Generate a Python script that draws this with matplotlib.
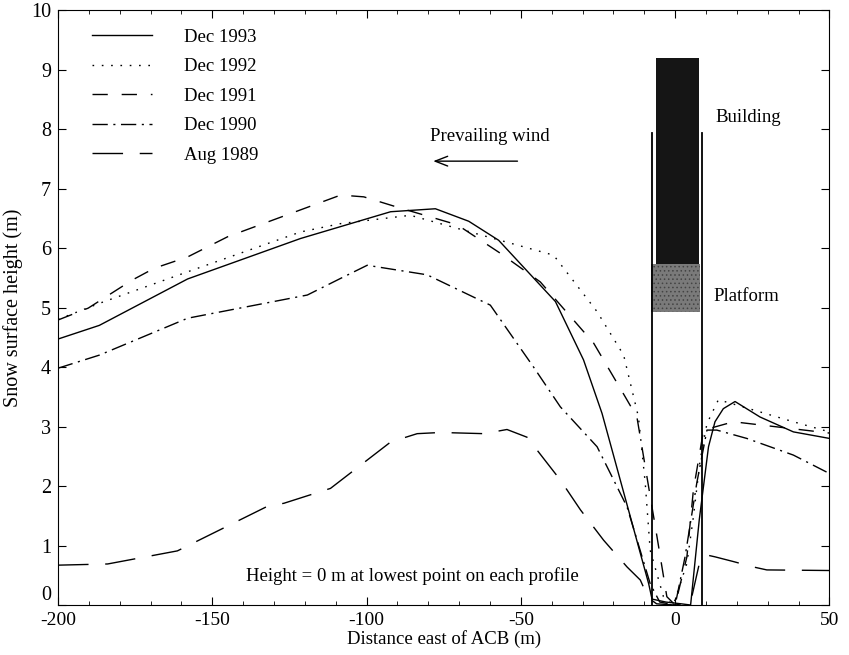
import matplotlib
matplotlib.use("Agg")
import matplotlib.pyplot as plt
from matplotlib.patches import Rectangle
from matplotlib.ticker import MultipleLocator

plt.rcParams['font.family'] = ['Liberation Serif', 'DejaVu Serif']
plt.rcParams['axes.unicode_minus'] = False
plt.rcParams['hatch.color'] = '#444444'
plt.rcParams['hatch.linewidth'] = 0.6

# Dec 1993 (solid)
x93 = [-200, -186.6, -158, -121.4, -92.2, -77.7, -66.9, -57.2, -38.8, -29.7, -23.7, -8.6, -7.5, -3, 2, 5, 7.8, 10.8, 12.9, 15.6, 19.4, 27.5, 38.3, 50]
y93 = [4.47, 4.70, 5.48, 6.16, 6.61, 6.66, 6.45, 6.13, 5.10, 4.12, 3.22, 0.36, 0.10, 0.05, 0.02, 0.0, 1.43, 2.66, 3.08, 3.30, 3.42, 3.16, 2.91, 2.80]

# Dec 1992 (dotted)
x92 = [-200, -186.6, -158, -121.4, -108.4, -85.8, -60.9, -39.4, -25.3, -16.7, -11.9, -9.7, -8.1, -3.8, -0.6, 3.8, 5.9, 8.1, 10.3, 14, 20, 38.3, 50]
y92 = [4.80, 5.07, 5.60, 6.27, 6.41, 6.55, 6.19, 5.88, 4.93, 4.20, 3.16, 2.05, 0.92, 0.14, 0.0, 0.70, 1.48, 2.44, 3.05, 3.45, 3.36, 3.08, 2.91]

# Dec 1991 (dashed)
x91 = [-200, -190.2, -176, -168.8, -158, -145, -124.6, -108.4, -100.9, -89, -70.6, -56.6, -43.7, -26.4, -16.2, -12.4, -5.9, -2.7, 0, 3.8, 5.9, 9.2, 18.9, 50]
y91 = [4.79, 4.99, 5.46, 5.66, 5.85, 6.19, 6.58, 6.89, 6.86, 6.67, 6.39, 5.91, 5.43, 4.40, 3.50, 3.16, 1.15, 0.14, 0.0, 0.81, 1.93, 2.94, 3.08, 2.89]

# Dec 1990 (dash-dot)
x90 = [-200, -186.6, -158, -119.2, -108.4, -99.8, -80.4, -59.9, -45.9, -37.2, -25.3, -15.6, -8.1, -5, 0, 3.2, 7.0, 10.3, 13.5, 23.2, 38.3, 50]
y90 = [3.98, 4.20, 4.82, 5.21, 5.49, 5.71, 5.55, 5.04, 4.00, 3.33, 2.66, 1.65, 0.36, 0.05, 0.0, 0.81, 2.05, 2.94, 2.94, 2.80, 2.52, 2.21]

# Aug 1989 (long dash)
x89 = [-200, -183.9, -161.3, -132.1, -126.8, -111.7, -92.2, -83.6, -76, -62, -54.5, -48, -37.2, -30.7, -23.2, -15.6, -11.3, -8.7, -6, 0, 5, 8.1, 10.3, 12.9, 18.9, 25.3, 29.7, 50]
y89 = [0.67, 0.69, 0.91, 1.66, 1.71, 1.96, 2.74, 2.88, 2.90, 2.88, 2.95, 2.82, 2.10, 1.60, 1.09, 0.64, 0.42, 0.12, 0.02, 0.0, 0.05, 0.76, 0.84, 0.81, 0.73, 0.64, 0.59, 0.58]

series = [
    ("Dec 1993", x93, y93, '-'),
    ("Dec 1992", x92, y92, (0, (1.2, 5.5))),
    ("Dec 1991", x91, y91, (0, (11, 10))),
    ("Dec 1990", x90, y90, (0, (11, 4, 1.5, 4))),
    ("Aug 1989", x89, y89, (0, (22, 12))),
]

# building geometry (data units)
wall_left, wall_right, wall_top = -7.44, 8.74, 7.93
bld_left, bld_right, bld_bottom, bld_top = -6.15, 7.77, 5.73, 9.19
plat_left, plat_right, plat_bottom = -7.77, 8.09, 4.92

fig = plt.figure(figsize=(8.49, 6.55), dpi=100)
ax = fig.add_axes([0.0683, 0.0763, 0.9087, 0.9084])

for label, xs, ys, ls in series:
    ax.plot(xs, ys, color='black', linestyle=ls, linewidth=1.0, label=label)

ax.add_patch(Rectangle((bld_left, bld_bottom), bld_right - bld_left, bld_top - bld_bottom,
                       facecolor='#151515', edgecolor='none', zorder=3))
ax.add_patch(Rectangle((plat_left, plat_bottom), plat_right - plat_left, bld_bottom - plat_bottom,
                       facecolor='#7a7a7a', edgecolor='#444444', linewidth=0, hatch='....', zorder=3))
ax.plot([wall_left, wall_left], [0, wall_top], color='black', linewidth=1.3, zorder=4)
ax.plot([wall_right, wall_right], [0, wall_top], color='black', linewidth=1.3, zorder=4)

fs = 13.5
ax.text(12.9, 8.2, "Building", fontsize=fs, va='center', ha='left')
ax.text(12.3, 5.19, "Platform", fontsize=fs, va='center', ha='left')
ax.text(-79.3, 7.88, "Prevailing wind", fontsize=fs, va='center', ha='left')
ax.annotate("", xy=(-79.3, 7.46), xytext=(-50.2, 7.46),
            arrowprops=dict(arrowstyle='->,head_length=0.9,head_width=0.35', color='black', lw=1.0))
ax.text(-139.2, 0.49, "Height = 0 m at lowest point on each profile", fontsize=fs, va='center', ha='left')

ax.set_xlim(-200, 50)
ax.set_ylim(0, 10)
ax.xaxis.set_major_locator(MultipleLocator(50))
ax.xaxis.set_minor_locator(MultipleLocator(10))
ax.yaxis.set_major_locator(MultipleLocator(1))
ax.tick_params(which='both', direction='in', top=True, right=True)
ax.tick_params(axis='x', labelsize=14, pad=5)
ax.tick_params(axis='y', labelsize=14.5, pad=5)
ax.tick_params(which='major', length=6)
ax.tick_params(which='minor', length=3)
ax.set_xlabel("Distance east of ACB (m)", fontsize=13.5, labelpad=1)
ax.set_ylabel("Snow surface height (m)", fontsize=14.5, labelpad=6)

leg = ax.legend(loc='upper left', frameon=False, fontsize=fs, handlelength=3.2,
                handletextpad=1.7, labelspacing=0.66, bbox_to_anchor=(0.022, 0.997))

# draw once so the ticks exist, then lift the "0" label as in the reference
fig.canvas.draw()
for tick in ax.yaxis.get_major_ticks():
    tick.label1.set_verticalalignment('center_baseline')
    if abs(tick.get_loc()) < 1e-9:
        tick.label1.set_verticalalignment('bottom')

fig.savefig("out.png", dpi=100)
